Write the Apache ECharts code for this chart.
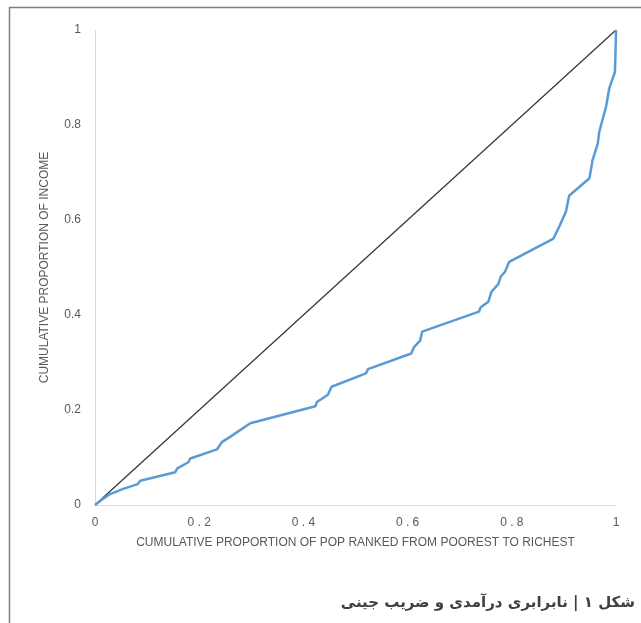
<!DOCTYPE html>
<html>
<head>
<meta charset="utf-8">
<script src="https://cdn.jsdelivr.net/npm/echarts@6/dist/echarts.min.js"></script>
<style>
  html, body { margin: 0; padding: 0; background: #fff; }
  #chart { width: 641px; height: 623px; }
</style>
</head>
<body>
<div id="chart"></div>
<script>
// منحنی لورنز - سهم تجمعی جمعیت در برابر سهم تجمعی درآمد
const popShare = [0, 0.013, 0.029, 0.054, 0.082, 0.087, 0.154, 0.158, 0.179, 0.183, 0.234, 0.244, 0.26, 0.298,
    0.423, 0.426, 0.447, 0.454, 0.52, 0.524, 0.607, 0.612, 0.624, 0.628, 0.737, 0.74, 0.755, 0.761, 0.774,
    0.779, 0.787, 0.795, 0.88, 0.891, 0.904, 0.91, 0.949, 0.955, 0.965, 0.968, 0.981, 0.987, 0.998, 1.0, 1.0];
const incomeShare = [0, 0.011, 0.023, 0.034, 0.044, 0.051, 0.069, 0.077, 0.09, 0.098, 0.117, 0.133, 0.144, 0.172,
    0.208, 0.217, 0.232, 0.249, 0.277, 0.286, 0.319, 0.332, 0.346, 0.365, 0.407, 0.416, 0.428, 0.449, 0.465,
    0.481, 0.491, 0.512, 0.561, 0.586, 0.618, 0.651, 0.688, 0.726, 0.761, 0.786, 0.839, 0.877, 0.912, 0.993, 1.0];

// خط برابری کامل
const equalityX = [0, 1];
const equalityY = [0, 1];

const xTickLabels = ['0', '0 . 2', '0 . 4', '0 . 6', '0 . 8', '1'];
const yTickLabels = ['0', '0.2', '0.4', '0.6', '0.8', '1'];

const xTitle = 'CUMULATIVE PROPORTION OF POP RANKED FROM POOREST TO RICHEST';
const yTitle = 'CUMULATIVE PROPORTION OF INCOME';
const caption = 'شکل ۱ | نابرابری درآمدی و ضریب جینی';

const chart = echarts.init(document.getElementById('chart'));

const labelStyle = { color: '#595959', fontSize: 12, fontFamily: 'Liberation Sans' };

chart.setOption({
    animation: false,
    grid: { left: 95, right: 25, top: 30, bottom: 118 },
    xAxis: {
        type: 'value',
        min: 0, max: 1, interval: 0.2,
        name: xTitle,
        nameLocation: 'middle',
        nameGap: 32,
        nameTextStyle: labelStyle,
        axisLine: { lineStyle: { color: '#d9d9d9', width: 1 } },
        axisTick: { show: false },
        splitLine: { show: false },
        axisLabel: Object.assign({
            margin: 12,
            formatter: v => xTickLabels[Math.round(v / 0.2)]
        }, labelStyle),
    },
    yAxis: {
        type: 'value',
        min: 0, max: 1, interval: 0.2,
        name: yTitle,
        nameLocation: 'middle',
        nameGap: 44,
        nameTextStyle: labelStyle,
        axisLine: { show: true, lineStyle: { color: '#d9d9d9', width: 1 } },
        axisTick: { show: false },
        splitLine: { show: false },
        axisLabel: Object.assign({
            margin: 14,
            formatter: v => yTickLabels[Math.round(v / 0.2)]
        }, labelStyle),
    },
    series: [
        {
            type: 'line',
            data: equalityX.map((x, i) => [x, equalityY[i]]),
            showSymbol: false,
            lineStyle: { color: '#333333', width: 1.2 },
            z: 2,
        },
        {
            type: 'line',
            data: popShare.map((x, i) => [x, incomeShare[i]]),
            showSymbol: false,
            lineStyle: { color: '#5b9bd5', width: 2.5 },
            z: 3,
        },
    ],
    graphic: [
        // قاب دور شکل
        {
            type: 'polyline',
            shape: { points: [[9.5, 623], [9.5, 7.5], [641, 7.5]] },
            style: { stroke: '#7f7f7f', lineWidth: 1.5, fill: null },
        },
        {
            type: 'text',
            right: 6,
            top: 596,
            style: {
                text: caption,
                fill: '#404040',
                font: 'bold 15px "DejaVu Sans", "Noto Sans", sans-serif',
            },
        },
    ],
});
</script>
</body>
</html>
